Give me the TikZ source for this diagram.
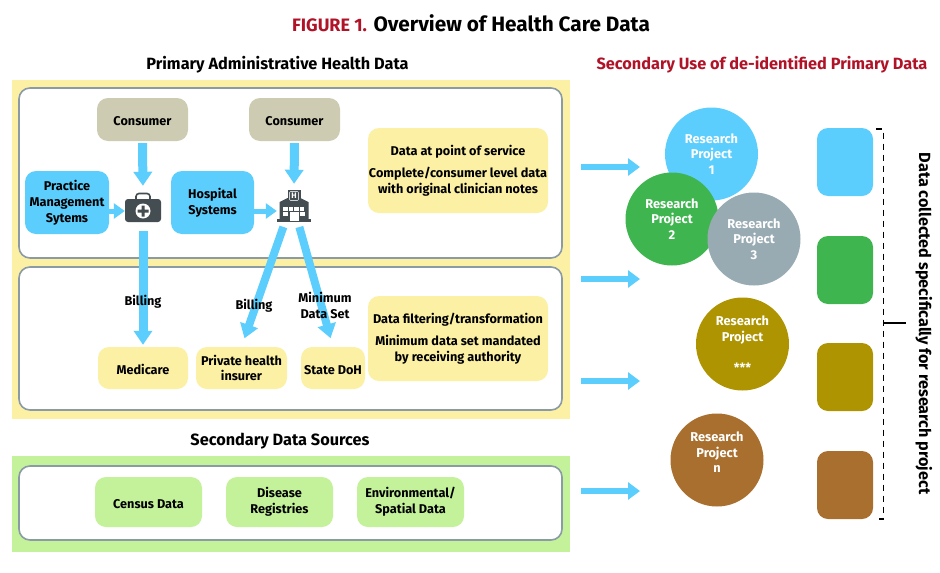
\documentclass[tikz,border=0pt]{standalone}
\usepackage{fontspec}
\setmainfont{Fira Sans}
\usetikzlibrary{arrows.meta}
\definecolor{skyblue}{HTML}{5BCEFD}
\definecolor{paleyellow}{HTML}{FBF0A4}
\definecolor{palegreen}{HTML}{C3F29A}
\definecolor{khaki}{HTML}{CDCBB1}
\definecolor{framegray}{HTML}{8A9BA5}
\definecolor{icondark}{HTML}{434D52}
\definecolor{darkred}{HTML}{B01327}
\definecolor{midgreen}{HTML}{3FB54F}
\definecolor{slategray}{HTML}{98ABB2}
\definecolor{olive}{HTML}{AD9400}
\definecolor{brown}{HTML}{A86F2E}
\tikzset{
	box/.style={rounded corners=11pt, inner sep=0pt, align=center, font=\fontsize{12.7}{15.8}\selectfont\bfseries, execute at begin node={\rule{0pt}{13pt}}},
	panel/.style={draw=framegray, line width=1.6pt, fill=white, rounded corners=11pt, minimum width=543pt, inner sep=0pt},
	band/.style={minimum width=558pt, inner sep=0pt},
	heading/.style={font=\fontsize{16.3}{19}\selectfont\bfseries, inner sep=0pt},
	project/.style={circle, minimum size=93pt, inner sep=0pt, text=white, align=center, font=\fontsize{12.8}{15.5}\selectfont\bfseries},
	tag/.style={rounded corners=11pt, minimum width=56pt, minimum height=68pt, inner sep=0pt},
	flow/.style={skyblue, line width=9pt, -{Triangle[length=14pt,width=18pt]}},
	smallflow/.style={skyblue, line width=5pt, -{Triangle[length=11pt,width=15pt]}},
	wideflow/.style={skyblue, line width=6.5pt, -{Triangle[length=12pt,width=17pt]}},
	word/.style={align=center, inner sep=0pt, font=\fontsize{12.7}{15.5}\selectfont\bfseries}
}
\begin{document}
\begin{tikzpicture}[x=1pt, y=-1pt]
\useasboundingbox (0,0) rectangle (940,573);

% title
\node[inner sep=0pt, font=\fontsize{20.8}{22}\selectfont\bfseries] (title) at (471,23.5) {\textcolor{darkred}{\fontsize{18}{22}\selectfont FIGURE 1.} Overview of Health Care Data};
\node[heading] (primary) at (277.5,65) {Primary Administrative Health Data};
\node[heading, text=darkred] (secondaryuse) at (762,65) {Secondary Use of de-identified Primary Data};
\node[heading] (sources) at (280,441) {Secondary Data Sources};

% backgrounds
\node[band, fill=paleyellow, minimum height=339pt] (yellowband) at (291,249.5) {};
\node[band, fill=palegreen, minimum height=96pt] (greenband) at (291,504) {};
\node[panel, minimum height=170pt] (panelA) at (290.5,173) {};
\node[panel, minimum height=143pt] (panelB) at (290.5,338.5) {};
\node[panel, minimum height=74pt] (panelC) at (290.5,503) {};

% boxes
\node[box, fill=khaki, minimum width=91pt, minimum height=43pt] (consumerA) at (142.5,119.5) {Consumer};
\node[box, fill=khaki, minimum width=91pt, minimum height=43pt] (consumerB) at (294.5,119.5) {Consumer};
\node[box, fill=skyblue, minimum width=84pt, minimum height=63pt] (practice) at (67,202.5) {Practice\\Management\\Sytems};
\node[box, fill=skyblue, minimum width=83pt, minimum height=63pt] (hospital) at (212.5,202.5) {Hospital\\Systems};
\node[box, fill=paleyellow, minimum width=180pt, minimum height=85pt] (pointofservice) at (458,170.5) {Data at point of service\\[6pt]Complete/consumer level data\\with original clinician notes};
\node[box, fill=paleyellow, minimum width=180pt, minimum height=85pt] (filtering) at (458,338.5) {Data filtering/transformation\\[6pt]Minimum data set mandated\\by receiving authority};
\node[box, fill=paleyellow, minimum width=90pt, minimum height=42pt] (medicare) at (143,368) {Medicare};
\node[box, fill=paleyellow, minimum width=91pt, minimum height=42pt] (insurer) at (241.5,368) {Private health\\insurer};
\node[box, fill=paleyellow, minimum width=64pt, minimum height=42pt] (doh) at (333,368) {State DoH};
\node[box, fill=palegreen, minimum width=107pt, minimum height=50pt] (census) at (148.5,502) {Census Data};
\node[box, fill=palegreen, minimum width=107pt, minimum height=50pt] (registries) at (279.5,502) {Disease\\Registries};
\node[box, fill=palegreen, minimum width=107pt, minimum height=50pt] (spatial) at (410.5,502) {Environmental/\\Spatial Data};

% icons
\node[inner sep=0pt, minimum width=36pt, minimum height=30pt] (medkit) at (143,207) {};
\begin{scope}[shift={(143,207)}]
\draw[icondark, line width=1.6pt, rounded corners=3pt] (-7,-7) -- (-7,-13.5) -- (7,-13.5) -- (7,-7);
\fill[icondark, rounded corners=3pt] (-18,-8) rectangle (18,15);
\fill[white] (0,4) circle (7.5);
\fill[icondark] (-1.5,-1.5) rectangle (1.5,9.5) (-5.5,2.5) rectangle (5.5,5.5);
\end{scope}
\node[inner sep=0pt, minimum width=34pt, minimum height=32pt] (hospicon) at (294,206) {};
\begin{scope}[shift={(294,206)}]
\fill[icondark] (-6.5,-16) rectangle (6.5,-3);
\fill[icondark] (-14.5,-4) -- (-6.5,-8) -- (6.5,-8) -- (14.5,-4) -- (14.5,13) -- (-14.5,13) -- cycle;
\fill[icondark] (-17,13) rectangle (17,16);
\draw[white!75!icondark, line width=0.6pt, rounded corners=1pt] (-4.5,-14.5) rectangle (4.5,-5.5);
\node[text=white, inner sep=0pt, font=\fontsize{8}{8}\selectfont\bfseries] (hosph) at (0,-10) {H};
\foreach \xa in {-11,-5.5,0,5.5} {
	\fill[white] (\xa,1) rectangle +(4.5,4);
}
\fill[white] (-11,6) rectangle +(5,4);
\fill[white] (5.5,6) rectangle +(5,4);
\fill[white] (-4.5,6) rectangle (4.5,15);
\end{scope}

% arrows
\draw[flow, shorten <=2pt, shorten >=6pt] (consumerA.south) -- (medkit.north);
\draw[flow, shorten <=2pt, shorten >=6pt] (consumerB.south) -- (hospicon.north);
\draw[smallflow] (practice.east |- medkit) ++(0,4) coordinate (pm) -- (medkit.west |- pm);
\draw[smallflow] (hospital.east |- hospicon) ++(0,5) coordinate (hs) -- (hospicon.west |- hs);
\draw[flow, shorten <=9pt, shorten >=2pt] (medkit.south) -- (medicare.north);
\draw[flow, line width=8pt, shorten <=5pt, shorten >=9pt] ([xshift=-9pt]hospicon.south) -- (insurer.north);
\draw[flow, line width=8pt, shorten <=5pt, shorten >=9pt] ([xshift=4pt]hospicon.south) -- (doh.north);

\node[word] (billingA) at (143,301.5) {Billing};
\node[word] (billingB) at (254,305.5) {Billing};
\node[word] (minimum) at (325,305.5) {Minimum\\Data Set};

% right hand side
\node[project, fill=skyblue] (projA) at (711.5,154) {Research\\Project\\1};
\node[project, fill=midgreen] (projB) at (672,219) {Research\\Project\\2};
\node[project, fill=slategray] (projC) at (754,239) {Research\\Project\\3};
\node[project, fill=olive] (projD) at (742.5,344) {Research\\Project\\\\***};
\node[project, fill=brown] (projE) at (717,460) {Research\\Project\\n\\{}};

\node[tag, fill=skyblue] (tagA) at (845,162) {};
\node[tag, fill=midgreen] (tagB) at (845,270) {};
\node[tag, fill=olive] (tagC) at (845,377) {};
\node[tag, fill=brown] (tagD) at (845,485) {};

\coordinate (startA) at (581,167);
\coordinate (endA) at (640,167);
\coordinate (startB) at (581,279);
\coordinate (endB) at (640,279);
\coordinate (startC) at (581,381);
\coordinate (endC) at (640,381);
\coordinate (startD) at (581,491);
\coordinate (endD) at (640,491);
\foreach \na in {A,B,C,D} {
	\draw[wideflow] (start\na) -- (end\na);
}

% bracket
\coordinate (brtop) at (876,129);
\coordinate (brbot) at (876,519);
\draw[line width=1.5pt, dash pattern=on 6pt off 5pt] (brtop) -- (883.5,129) -- (883.5,519) -- (brbot);
\coordinate (brmid) at (883.5,323);
\draw[line width=1.3pt] (brmid) -- (906,323);
\node[word, rotate=-90, font=\fontsize{16.2}{17}\selectfont\bfseries] (collected) at (924,323.5) {Data collected specifically for research project};
\end{tikzpicture}
\end{document}
